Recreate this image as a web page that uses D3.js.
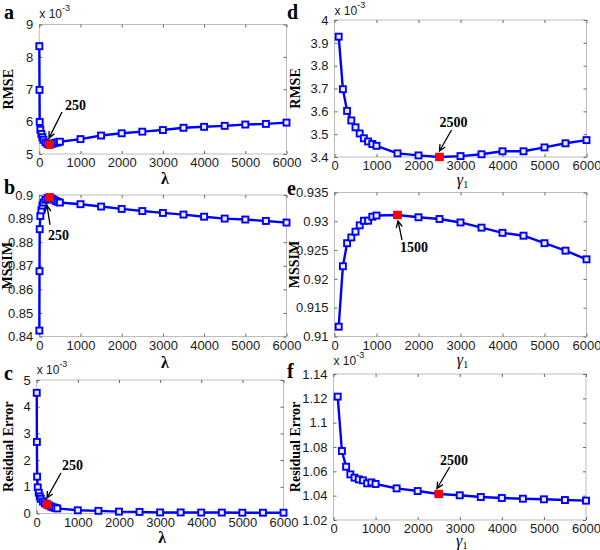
<!DOCTYPE html>
<html><head><meta charset="utf-8">
<script src="https://cdn.jsdelivr.net/npm/d3@7"></script>
<style>body{margin:0;background:#fff}</style>
</head><body><svg id="chart" width="600" height="550"></svg>
<script>
// ---------- data ----------
const lambdaX = [1,5,10,25,50,75,100,150,200,250,300,350,400,450,500,1000,1500,2000,2500,3000,3500,4000,4500,5000,5500,6000];
const rmseLambda = [8.33,6.98,5.99,5.75,5.62,5.52,5.44,5.36,5.31,5.29,5.31,5.33,5.35,5.36,5.38,5.46,5.57,5.64,5.69,5.74,5.81,5.84,5.87,5.91,5.93,5.97];
const mssimLambda = [0.8425,0.8677,0.8855,0.8911,0.8935,0.8955,0.8968,0.8980,0.8987,0.8990,0.8985,0.8980,0.8975,0.8971,0.8968,0.8961,0.8951,0.8941,0.8932,0.8924,0.8917,0.8908,0.8900,0.8896,0.8890,0.8883];
const resLambda = [4.52,2.68,1.38,0.98,0.78,0.64,0.55,0.45,0.38,0.34,0.30,0.26,0.23,0.21,0.19,0.12,0.10,0.07,0.06,0.04,0.04,0.035,0.035,0.03,0.03,0.03];

const gammaX = [100,200,300,400,500,600,700,800,900,1000,1500,2000,2500,3000,3500,4000,4500,5000,5500,6000];
const rmseGamma = [3.927,3.697,3.602,3.560,3.530,3.503,3.482,3.468,3.457,3.449,3.416,3.407,3.400,3.404,3.412,3.425,3.425,3.442,3.460,3.474];
const mssimGamma = [0.9117,0.9222,0.9262,0.9272,0.9282,0.9293,0.9301,0.9301,0.9308,0.9310,0.9311,0.9307,0.9304,0.9298,0.9289,0.9280,0.9275,0.9262,0.9249,0.9234];
const resGamma = [1.1214,1.0767,1.0638,1.0575,1.0548,1.0534,1.0526,1.0501,1.0509,1.0496,1.0460,1.0438,1.0414,1.0403,1.0389,1.0381,1.0375,1.0370,1.0364,1.0359];

const xTickValues = [0,1000,2000,3000,4000,5000,6000];
const yTicksA = [5,6,7,8,9];
const yTicksB = [0.84,0.85,0.86,0.87,0.88,0.89,0.9];
const yTicksC = [0,1,2,3,4,5];
const yTicksD = [3.4,3.5,3.6,3.7,3.8,3.9,4];
const yTicksE = [0.91,0.915,0.92,0.925,0.93,0.935];
const yTicksF = [1.02,1.04,1.06,1.08,1.1,1.12,1.14];
const highlightX = [250,250,250,2500,1500,2500];
const annotationText = ["250","250","250","2500","1500","2500"];
const panelLetters = ["a","b","c","d","e","f"];
const yTitles = ["RMSE","MSSIM","Residual Error","RMSE","MSSIM","Residual Error"];

// ---------- layout ----------
const panels = [
  {xs:lambdaX, ys:rmseLambda, yt:yTicksA, box:{l:39.3,r:286.5,t:24.5,b:154}, gamma:false, exp:-6.5, xtDy:30,
   ann:{tip:[-0.6,-6.5], tail:[12.4,-32.6], txt:[15.4,-34.6]}, letter:[4,19], ylabX:8},
  {xs:lambdaX, ys:mssimLambda, yt:yTicksB, box:{l:39.3,r:286.5,t:195,b:336.5}, gamma:false, exp:null, xtDy:31,
   ann:{tip:[-2.6,8], tail:[0.4,27.6], txt:[-1.6,42.6]}, letter:[4,194], ylabX:7},
  {xs:lambdaX, ys:resLambda, yt:yTicksC, box:{l:36.7,r:283.5,t:380,b:513.5}, gamma:false, exp:-6, xtDy:29.5,
   ann:{tip:[0,-6.5], tail:[14,-31.4], txt:[15,-34.4]}, letter:[4,380], ylabX:8},
  {xs:gammaX, ys:rmseGamma, yt:yTicksD, box:{l:334.5,r:586.5,t:20,b:157}, gamma:true, exp:-5, xtDy:28,
   ann:{tip:[0,-6], tail:[12,-27], txt:[0,-30]}, letter:[287,19], ylabX:295},
  {xs:gammaX, ys:mssimGamma, yt:yTicksE, box:{l:334.5,r:586.5,t:192.5,b:336.5}, gamma:true, exp:null, xtDy:28,
   ann:{tip:[0.5,6], tail:[4.5,25], txt:[2.5,37]}, letter:[287,195], ylabX:294},
  {xs:gammaX, ys:resGamma, yt:yTicksF, box:{l:333.5,r:586,t:374,b:520}, gamma:true, exp:-9, xtDy:26,
   ann:{tip:[-1.7,-5.5], tail:[11,-27], txt:[1.3,-29]}, letter:[287,378], ylabX:295}
];

const svg = d3.select("#chart");
const BLUE = "#0000ff";

panels.forEach((p, i) => {
  const {l, r, t, b} = p.box;
  const x = d3.scaleLinear().domain([0, 6000]).range([l, r]);
  const y = d3.scaleLinear().domain([p.yt[0], p.yt[p.yt.length - 1]]).range([b, t]);
  const g = svg.append("g");

  // frame
  g.append("rect").attr("x", l).attr("y", t).attr("width", r - l).attr("height", b - t)
    .attr("fill", "none").attr("stroke", "#bdbdbd").attr("stroke-width", 1);

  // axes via d3
  const fmt = d => String(+d.toFixed(4));
  const xa = g.append("g").attr("transform", `translate(0,${b})`)
    .call(d3.axisBottom(x).tickValues(xTickValues).tickSize(-3).tickPadding(4).tickFormat(fmt));
  const xt = g.append("g").attr("transform", `translate(0,${t})`)
    .call(d3.axisTop(x).tickValues(xTickValues).tickSize(-3).tickFormat(""));
  const ya = g.append("g").attr("transform", `translate(${l},0)`)
    .call(d3.axisLeft(y).tickValues(p.yt).tickSize(-3).tickPadding(6).tickFormat(fmt));
  const yr = g.append("g").attr("transform", `translate(${r},0)`)
    .call(d3.axisRight(y).tickValues(p.yt).tickSize(-3).tickFormat(""));
  [xa, xt, ya, yr].forEach(a => {
    a.select(".domain").remove();
    a.selectAll(".tick line").attr("stroke", "#666");
    a.selectAll(".tick text").attr("fill", "#1a1a1a")
      .style("font-family", "Liberation Sans, Arial, sans-serif").style("font-size", "13px");
  });

  // line
  const pts = p.xs.map((xv, k) => [xv, p.ys[k]]);
  g.append("path").datum(pts)
    .attr("d", d3.line().x(d => x(d[0])).y(d => y(d[1])))
    .attr("fill", "none").attr("stroke", BLUE).attr("stroke-width", 2.4).attr("stroke-linejoin", "round");

  // markers
  g.selectAll("rect.m").data(pts).enter().append("rect").attr("class", "m")
    .attr("x", d => x(d[0]) - 3).attr("y", d => y(d[1]) - 3)
    .attr("width", 6).attr("height", 6)
    .attr("fill", "#eef0ff").attr("stroke", BLUE).attr("stroke-width", 1.9);

  // highlight
  const hk = p.xs.indexOf(highlightX[i]);
  const hx = x(p.xs[hk]), hy = y(p.ys[hk]);
  g.append("rect").attr("x", hx - 4.2).attr("y", hy - 4.2).attr("width", 8.4).attr("height", 8.4)
    .attr("fill", "#ff0000");

  // annotation arrow
  const a = p.ann;
  const tx = hx + a.tip[0], ty = hy + a.tip[1];
  const sx = hx + a.tail[0], sy = hy + a.tail[1];
  const ang = Math.atan2(ty - sy, tx - sx);
  const hl = 7, ha = 0.45;
  g.append("path")
    .attr("d", `M${sx},${sy}L${tx},${ty}M${tx - hl * Math.cos(ang - ha)},${ty - hl * Math.sin(ang - ha)}L${tx},${ty}L${tx - hl * Math.cos(ang + ha)},${ty - hl * Math.sin(ang + ha)}`)
    .attr("fill", "none").attr("stroke", "#000").attr("stroke-width", 1.3);
  g.append("text").attr("x", hx + a.txt[0]).attr("y", hy + a.txt[1])
    .style("font-family", "Liberation Serif, Times New Roman, serif").style("font-weight", "bold")
    .style("font-size", "14px").text(annotationText[i]);

  // exponent
  if (p.exp !== null) {
    const e = g.append("text").attr("x", l).attr("y", t + p.exp)
      .style("font-family", "Liberation Sans, Arial, sans-serif").style("font-size", "12px").attr("fill", "#1a1a1a");
    e.append("tspan").text("x 10");
    e.append("tspan").attr("dy", -7).style("font-size", "9px").text("-3");
  }

  // y title
  g.append("text").attr("transform", `translate(${p.ylabX},${(t + b) / 2}) rotate(-90)`)
    .attr("text-anchor", "middle").attr("dominant-baseline", "central")
    .style("font-family", "Liberation Serif, Times New Roman, serif").style("font-weight", "bold")
    .style("font-size", "14px").text(yTitles[i]);

  // x title
  const xl = g.append("text").attr("x", (l + r) / 2 + 2).attr("y", b + p.xtDy)
    .attr("text-anchor", "middle")
    .style("font-family", "Liberation Serif, Times New Roman, serif");
  if (p.gamma) {
    xl.append("tspan").style("font-style", "italic").style("font-size", "16px").text("γ");
    xl.append("tspan").attr("dy", 3).style("font-size", "10px").text("1");
  } else {
    xl.style("font-weight", "bold").style("font-size", "16px").text("λ");
  }

  // panel letter
  g.append("text").attr("x", p.letter[0]).attr("y", p.letter[1])
    .style("font-family", "Liberation Serif, Times New Roman, serif").style("font-weight", "bold")
    .style("font-size", "20px").text(panelLetters[i]);
});
</script></body></html>
